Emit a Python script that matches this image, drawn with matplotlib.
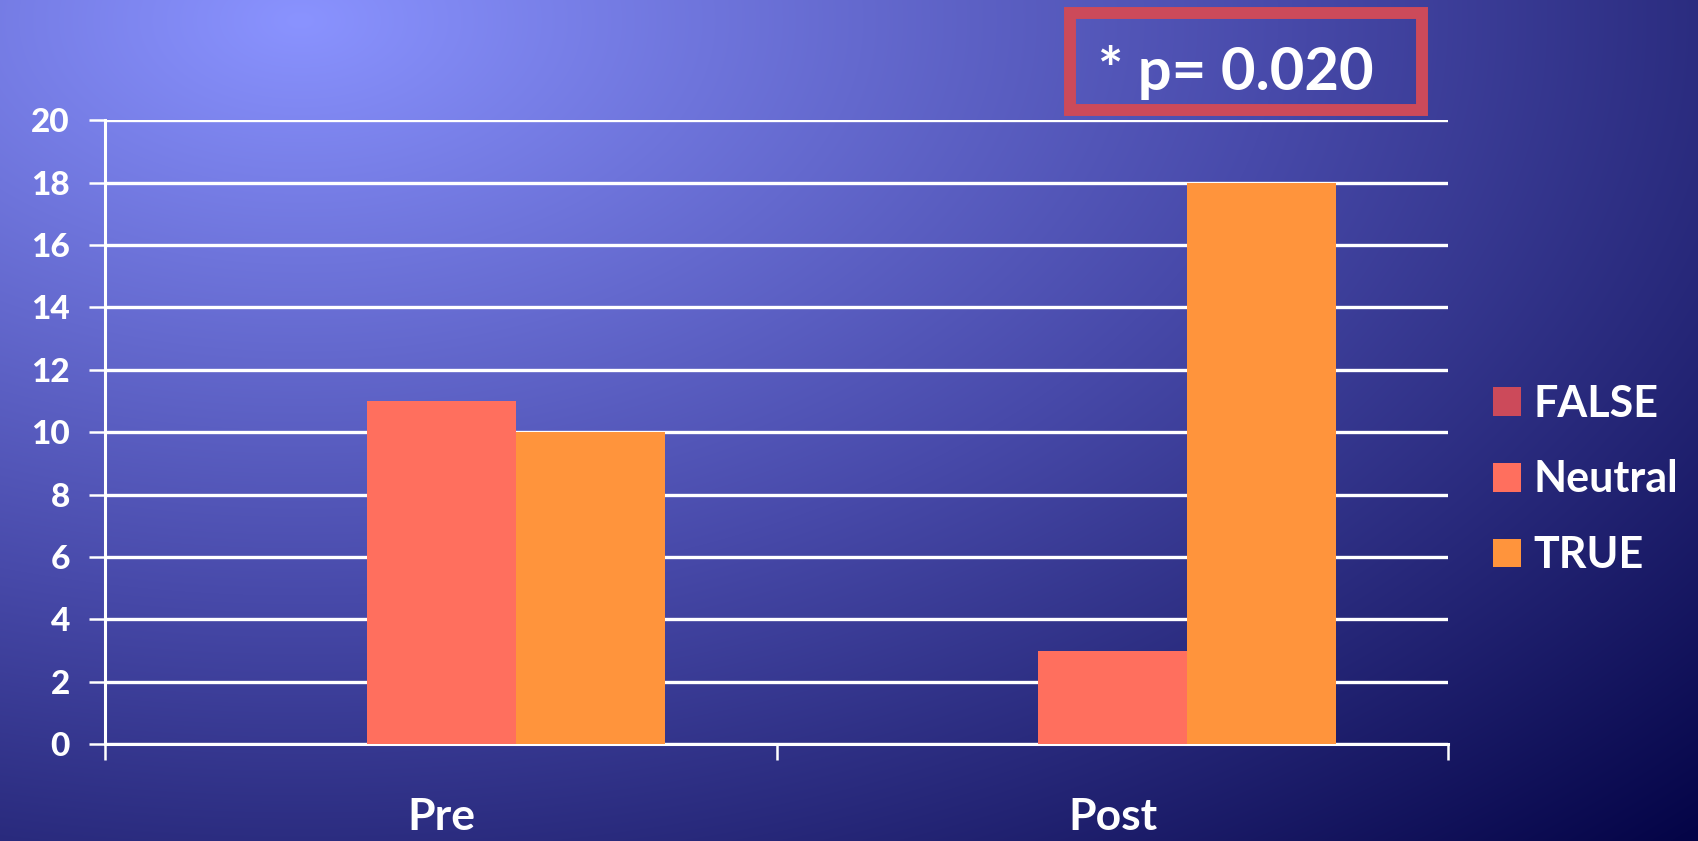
import matplotlib
matplotlib.use("Agg")
import matplotlib.pyplot as plt
from matplotlib.patches import Rectangle
import numpy as np

categories = ["Pre", "Post"]
series_names = ["FALSE", "Neutral", "TRUE"]
false_vals = [0, 0]
neutral_vals = [11, 3]
true_vals = [10, 18]
y_ticks = [0, 2, 4, 6, 8, 10, 12, 14, 16, 18, 20]
p_text = "* p= 0.020"

colors = ["#cc4a5a", "#ff6f5e", "#ff943c"]

plt.rcParams['font.family'] = ['Lato', 'DejaVu Sans']
plt.rcParams['font.weight'] = 'bold'

W, H = 1698, 841
fig = plt.figure(figsize=(W / 100, H / 100), dpi=100)

# radial background gradient, bright top-left to dark navy bottom-right
bg = fig.add_axes([0, 0, 1, 1])
yy, xx = np.mgrid[0:H, 0:W]
d = np.sqrt(((xx - 300) / 1700.0) ** 2 + ((yy - 20) / 1000.0) ** 2)
d = np.clip(d / 1.15, 0, 1)
c0 = np.array([0x8a, 0x93, 0xff]) / 255.0
c1 = np.array([0x48, 0x4a, 0xaa]) / 255.0
c2 = np.array([0x05, 0x05, 0x48]) / 255.0
t = d[..., None]
img = np.where(t < 0.5, c0 + (c1 - c0) * (t / 0.5), c1 + (c2 - c1) * ((t - 0.5) / 0.5))
bg.imshow(img, aspect='auto', extent=[0, 1, 0, 1], origin='upper')
bg.axis('off')

ax = fig.add_axes([0.062, 0.115, 0.791, 0.742])
ax.patch.set_alpha(0)

x = np.arange(len(categories))
w = 0.222
for i, vals in enumerate([false_vals, neutral_vals, true_vals]):
    ax.bar(x + (i - 1) * w, vals, width=w, color=colors[i], label=series_names[i], zorder=3)

ax.set_xlim(-0.5, 1.5)
ax.set_ylim(0, 20)
ax.set_yticks(y_ticks)
ax.yaxis.grid(True, color='white', lw=2.4, zorder=0)
ax.set_axisbelow(True)

ax.set_xticks([-0.5, 0.5, 1.5])
ax.set_xticklabels([])
ax.set_xticks(x, minor=True)
ax.set_xticklabels(categories, minor=True, color='white', fontsize=32, fontweight='bold')
ax.tick_params(axis='x', which='minor', length=0, pad=38)
ax.tick_params(axis='x', which='major', length=11.5, width=1.8, color='white', direction='out')
ax.tick_params(axis='y', length=11.5, width=1.8, color='white', direction='out',
               labelcolor='white', labelsize=24, pad=14)
for lab in ax.get_yticklabels():
    lab.set_fontweight('black')

for s in ['top', 'right']:
    ax.spines[s].set_visible(False)
for s in ['left', 'bottom']:
    ax.spines[s].set_color('white')
    ax.spines[s].set_linewidth(2.2)

leg = fig.legend(loc='center left', bbox_to_anchor=(0.879, 0.430), frameon=False,
                 fontsize=31, handlelength=0.65, handleheight=0.65, handletextpad=0.3,
                 labelspacing=0.83, borderpad=0, borderaxespad=0)
for txt in leg.get_texts():
    txt.set_color('white')
    txt.set_fontweight('bold')

fig.patches.append(Rectangle((0.630, 0.869), 0.2073, 0.1153, transform=fig.transFigure,
                             fill=False, edgecolor='#cc4a5a', lw=8.6))
fig.text(0.6466, 0.893, p_text, color='white', fontsize=43, fontweight='bold',
         ha='left', va='baseline')

fig.savefig("out.png", dpi=100)
